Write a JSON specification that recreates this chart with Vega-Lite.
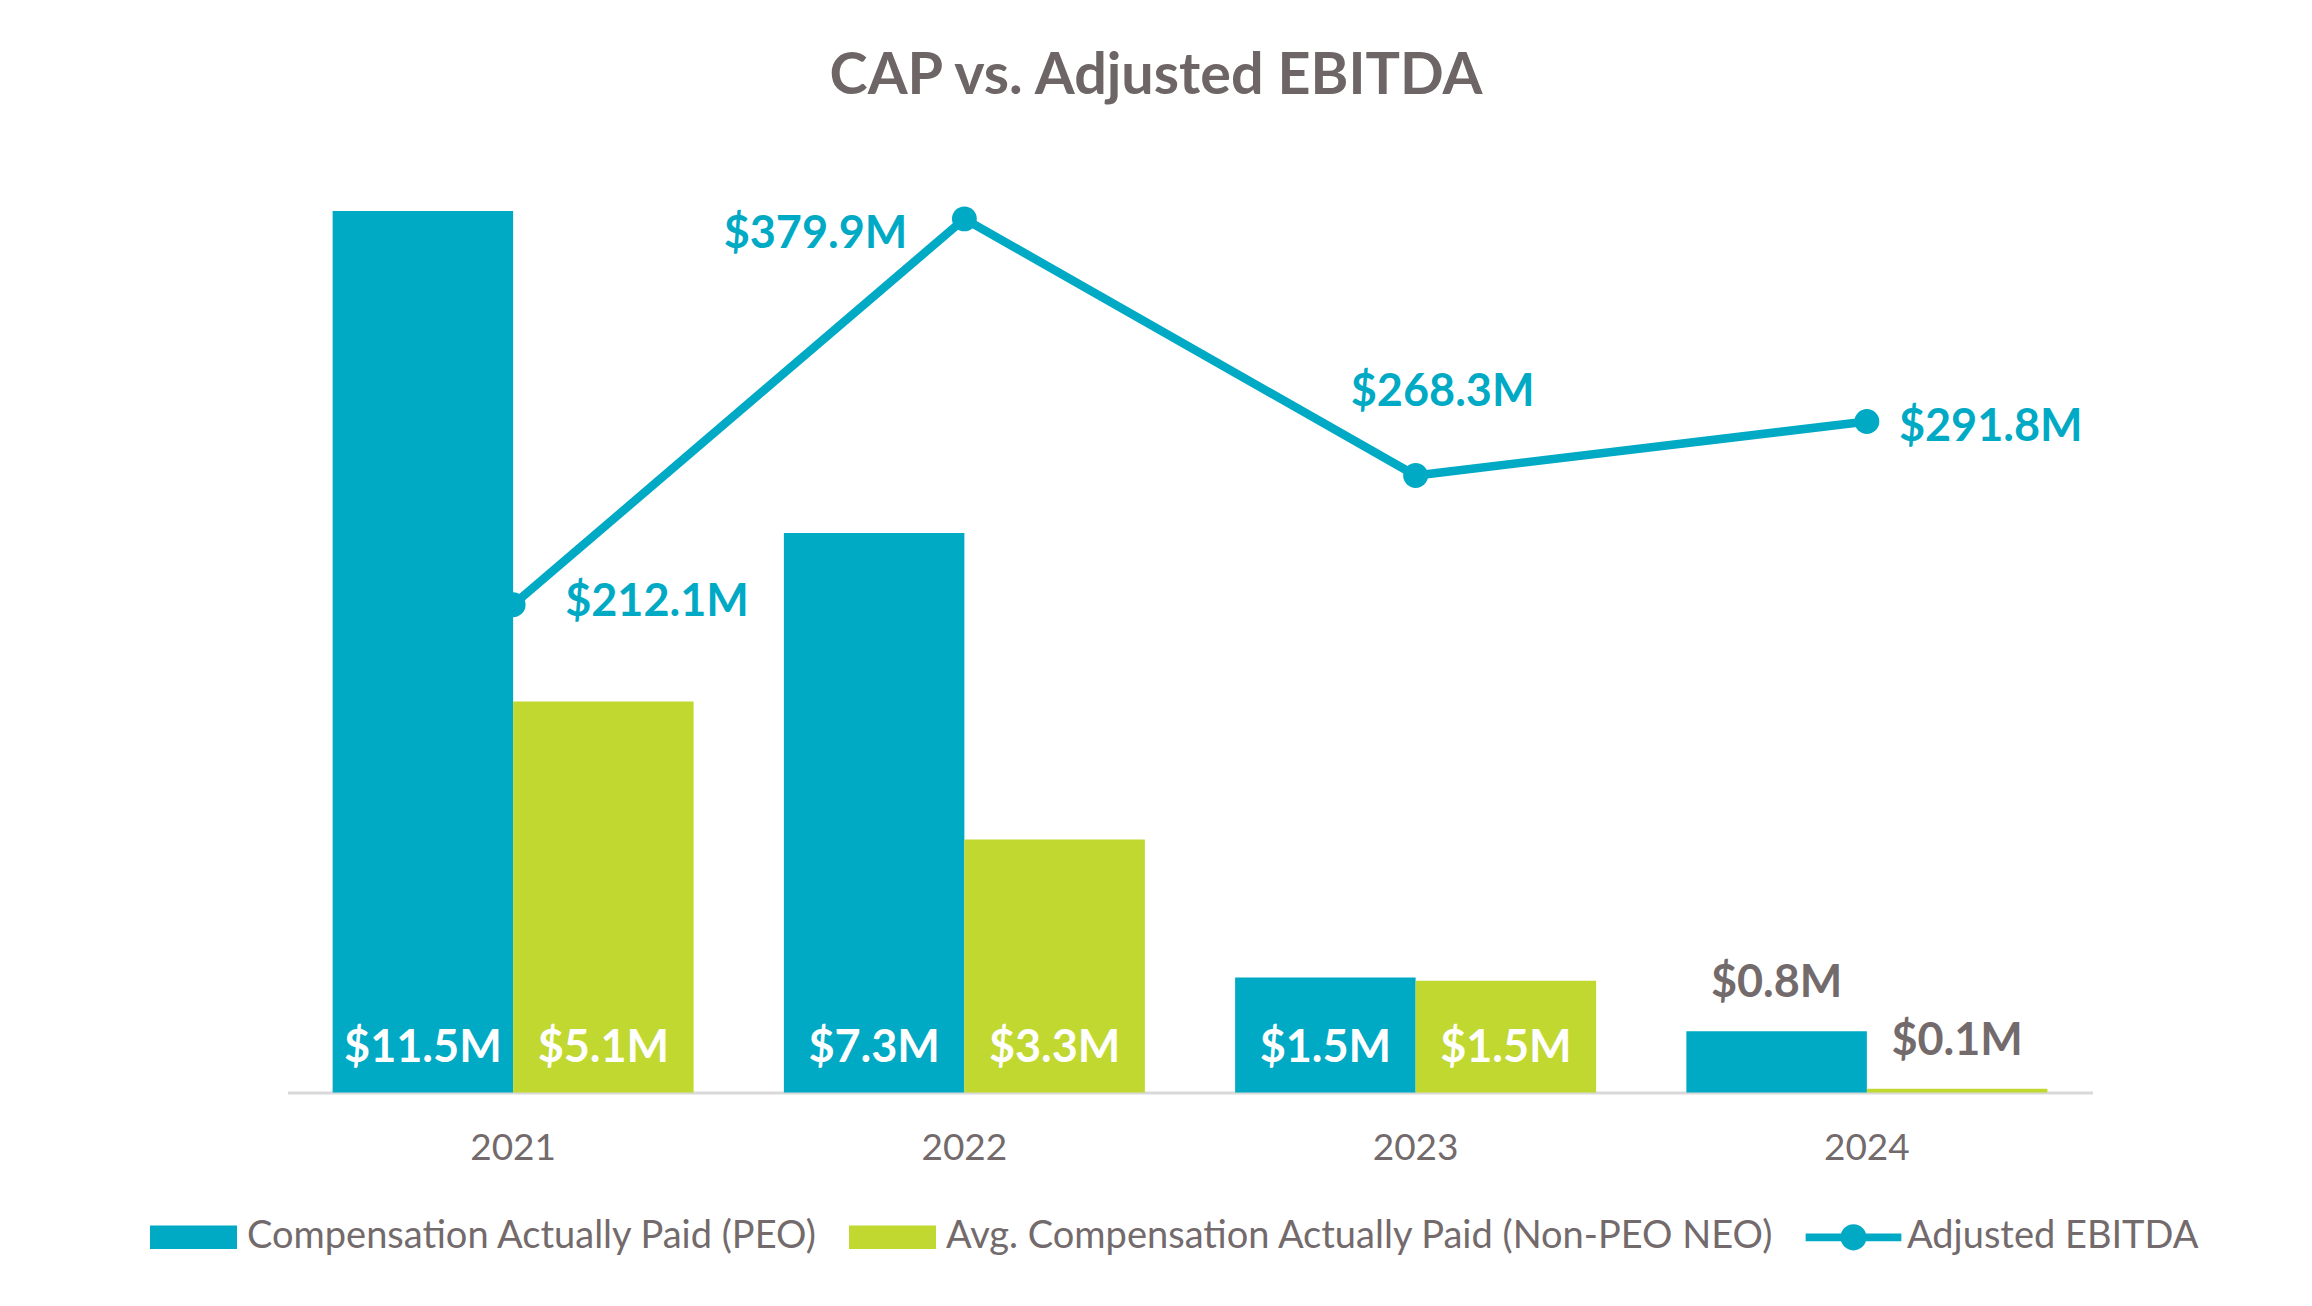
{
  "$schema": "https://vega.github.io/schema/vega-lite/v6.json",
  "width": 1805,
  "height": 920,
  "autosize": {"type": "none"},
  "padding": {"left": 287.5, "top": 172.6, "right": 219.5, "bottom": 213.4},
  "background": "white",
  "title": {
    "text": "CAP vs. Adjusted EBITDA",
    "font": "Lato",
    "fontSize": 57.5,
    "fontWeight": "bold",
    "color": "#6E6566",
    "anchor": "middle",
    "frame": "group",
    "dx": -34,
    "offset": 66
  },
  "config": {"view": {"stroke": null}, "font": "Lato"},
  "datasets": {
    "bars": [
      {"year": "2021", "series": "Compensation Actually Paid (PEO)", "value": 11.5, "label": "$11.5M"},
      {"year": "2021", "series": "Avg. Compensation Actually Paid (Non-PEO NEO)", "value": 5.1, "label": "$5.1M"},
      {"year": "2022", "series": "Compensation Actually Paid (PEO)", "value": 7.3, "label": "$7.3M"},
      {"year": "2022", "series": "Avg. Compensation Actually Paid (Non-PEO NEO)", "value": 3.3, "label": "$3.3M"},
      {"year": "2023", "series": "Compensation Actually Paid (PEO)", "value": 1.5, "label": "$1.5M"},
      {"year": "2023", "series": "Avg. Compensation Actually Paid (Non-PEO NEO)", "value": 1.46, "label": "$1.5M"},
      {"year": "2024", "series": "Compensation Actually Paid (PEO)", "value": 0.8, "label": "$0.8M"},
      {"year": "2024", "series": "Avg. Compensation Actually Paid (Non-PEO NEO)", "value": 0.05, "label": "$0.1M"}
    ],
    "ebitda": [
      {"year": "2021", "value": 212.1, "label": "$212.1M"},
      {"year": "2022", "value": 379.9, "label": "$379.9M"},
      {"year": "2023", "value": 268.3, "label": "$268.3M"},
      {"year": "2024", "value": 291.8, "label": "$291.8M"}
    ]
  },
  "layer": [
    {
      "data": {"name": "bars"},
      "layer": [
        {
          "mark": {"type": "bar"},
          "encoding": {
            "x": {
              "field": "year", "type": "nominal",
              "scale": {"paddingInner": 0.2, "paddingOuter": 0.1},
              "axis": {
                "title": null, "labelAngle": 0, "ticks": false, "grid": false,
                "domain": true, "domainColor": "#D9D9D9", "domainWidth": 3,
                "labelFont": "Lato", "labelFontSize": 37, "labelColor": "#736A6C",
                "labelPadding": 38
              }
            },
            "xOffset": {
              "field": "series", "type": "nominal",
              "scale": {
                "domain": ["Compensation Actually Paid (PEO)", "Avg. Compensation Actually Paid (Non-PEO NEO)"],
                "paddingInner": 0, "paddingOuter": 0
              }
            },
            "y": {
              "field": "value", "type": "quantitative",
              "scale": {"domain": [0, 12], "nice": false, "zero": true},
              "axis": null
            },
            "color": {
              "field": "series", "type": "nominal",
              "scale": {
                "domain": ["Compensation Actually Paid (PEO)", "Avg. Compensation Actually Paid (Non-PEO NEO)", "Adjusted EBITDA"],
                "range": ["#00AAC5", "#C1D831", "#00AAC5"]
              },
              "legend": {
                "title": null,
                "orient": "none",
                "legendX": -137.5,
                "legendY": 1021,
                "direction": "horizontal",
                "columns": 3,
                "columnPadding": 30,
                "labelOffset": 10,
                "labelFont": "Lato",
                "labelFontSize": 38,
                "labelColor": "#736A6C",
                "labelLimit": 0,
                "symbolSize": 7569,
                "encode": {
                  "symbols": {
                    "update": {
                      "shape": {"signal": "datum.value === 'Adjusted EBITDA' ? 'M-1.1,-0.09H1.1V0.09H-1.1Z M-0.3,0A0.3,0.3 0 1 1 0.3,0A0.3,0.3 0 1 1 -0.3,0Z' : 'M-1,-0.27H1V0.27H-1Z'"},
                      "fill": {"signal": "scale('color', datum.value)"},
                      "stroke": {"value": "transparent"},
                      "strokeWidth": {"value": 0},
                      "opacity": {"value": 1},
                      "size": {"value": 7569}
                    }
                  }
                }
              }
            }
          }
        },
        {
          "transform": [{"filter": "datum.value >= 1"}],
          "mark": {"type": "text", "font": "Lato", "fontWeight": "bold", "fontSize": 45, "color": "white", "baseline": "alphabetic", "align": "center", "dy": -31},
          "encoding": {
            "x": {"field": "year", "type": "nominal"},
            "xOffset": {"field": "series", "type": "nominal"},
            "y": {"datum": 0, "type": "quantitative"},
            "text": {"field": "label", "type": "nominal"}
          }
        },
        {
          "transform": [{"filter": "datum.value < 1"}],
          "mark": {"type": "text", "font": "Lato", "fontWeight": "bold", "fontSize": 45, "color": "#736A6C", "baseline": "alphabetic", "align": "center", "dy": -34},
          "encoding": {
            "x": {"field": "year", "type": "nominal"},
            "xOffset": {"field": "series", "type": "nominal"},
            "y": {"field": "value", "type": "quantitative"},
            "text": {"field": "label", "type": "nominal"}
          }
        }
      ]
    },
    {
      "data": {"name": "ebitda"},
      "layer": [
        {
          "mark": {"type": "line", "strokeWidth": 8.5, "point": {"filled": true, "size": 620, "opacity": 1}},
          "encoding": {
            "x": {"field": "year", "type": "nominal"},
            "y": {"field": "value", "type": "quantitative", "scale": {"domain": [0, 400], "nice": false}, "axis": null},
            "color": {"datum": "Adjusted EBITDA"}
          }
        },
        {
          "transform": [{"filter": "datum.year === '2021'"}],
          "mark": {"type": "text", "font": "Lato", "fontWeight": "bold", "fontSize": 45, "color": "#00AAC5", "align": "left", "baseline": "middle", "dx": 52, "dy": -3},
          "encoding": {
            "x": {"field": "year", "type": "nominal"},
            "y": {"field": "value", "type": "quantitative"},
            "text": {"field": "label", "type": "nominal"}
          }
        },
        {
          "transform": [{"filter": "datum.year === '2022'"}],
          "mark": {"type": "text", "font": "Lato", "fontWeight": "bold", "fontSize": 45, "color": "#00AAC5", "align": "right", "baseline": "middle", "dx": -57, "dy": 15},
          "encoding": {
            "x": {"field": "year", "type": "nominal"},
            "y": {"field": "value", "type": "quantitative"},
            "text": {"field": "label", "type": "nominal"}
          }
        },
        {
          "transform": [{"filter": "datum.year === '2023'"}],
          "mark": {"type": "text", "font": "Lato", "fontWeight": "bold", "fontSize": 45, "color": "#00AAC5", "align": "center", "baseline": "middle", "dx": 27, "dy": -84},
          "encoding": {
            "x": {"field": "year", "type": "nominal"},
            "y": {"field": "value", "type": "quantitative"},
            "text": {"field": "label", "type": "nominal"}
          }
        },
        {
          "transform": [{"filter": "datum.year === '2024'"}],
          "mark": {"type": "text", "font": "Lato", "fontWeight": "bold", "fontSize": 45, "color": "#00AAC5", "align": "left", "baseline": "middle", "dx": 32, "dy": 6},
          "encoding": {
            "x": {"field": "year", "type": "nominal"},
            "y": {"field": "value", "type": "quantitative"},
            "text": {"field": "label", "type": "nominal"}
          }
        }
      ]
    }
  ],
  "resolve": {"scale": {"y": "independent"}}
}
